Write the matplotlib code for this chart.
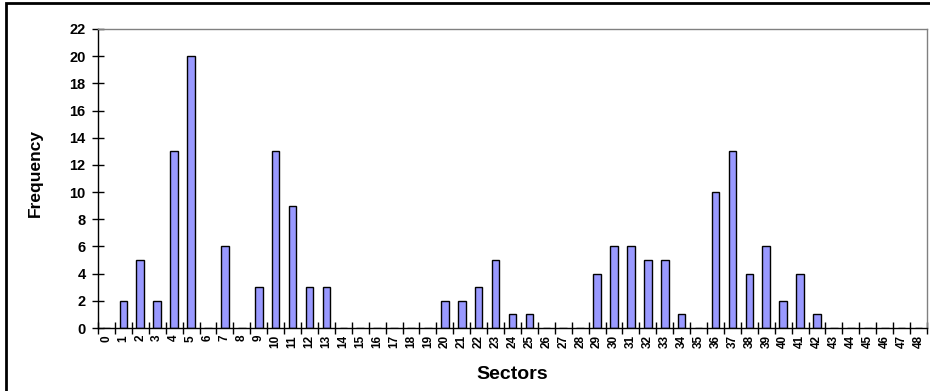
import matplotlib.pyplot as plt
from matplotlib.patches import Rectangle
import numpy as np

sectors = list(range(49))
frequency = [0, 2, 5, 2, 13, 20, 0, 6, 0, 3, 13, 9, 3, 3, 0, 0, 0, 0, 0, 0,
             2, 2, 3, 5, 1, 1, 0, 0, 0, 4, 6, 6, 5, 5, 1, 0, 10, 13, 4, 6,
             2, 4, 1, 0, 0, 0, 0, 0, 0]
y_ticks = list(range(0, 23, 2))

plt.rcParams["font.family"] = ["Liberation Sans", "DejaVu Sans"]
plt.rcParams["font.weight"] = "bold"

fig = plt.figure(figsize=(9.3, 3.91), dpi=100)
ax = fig.add_axes([98 / 930, 1 - 328 / 391, (927 - 98) / 930, (328 - 29) / 391])

ax.bar(sectors, frequency, width=0.45, color="#9999FF", edgecolor="black", linewidth=1)

ax.set_xlim(-0.5, 48.5)
ax.set_ylim(0, 22)
ax.set_yticks(y_ticks)
ax.set_yticklabels([str(v) for v in y_ticks], fontsize=10.5, fontweight="bold")
ax.tick_params(axis="y", direction="inout", length=8, width=1, pad=5)

ax.set_xticks(sectors)
ax.set_xticklabels([str(s) for s in sectors], rotation=90, fontsize=8.5, fontweight="bold")
ax.tick_params(axis="x", which="major", length=0, pad=5)
ax.set_xticks(np.arange(-0.5, 49, 1), minor=True)
ax.tick_params(axis="x", which="minor", direction="inout", length=8, width=1)

for side in ("top", "right"):
    ax.spines[side].set_color("#808080")
    ax.spines[side].set_linewidth(1)
for side in ("left", "bottom"):
    ax.spines[side].set_color("black")
    ax.spines[side].set_linewidth(1)

ax.set_xlabel("Sectors", fontsize=14, fontweight="bold", labelpad=13)
ax.set_ylabel("Frequency", fontsize=12.5, fontweight="bold")
ax.yaxis.set_label_coords(-0.066, 0.52)

# outer chart frame
fig.patches.append(Rectangle((6 / 930, -0.05), 1.1, 1 - 3 / 391 + 0.05,
                             transform=fig.transFigure, fill=False,
                             edgecolor="black", linewidth=2))

fig.savefig("out.png", dpi=100)
